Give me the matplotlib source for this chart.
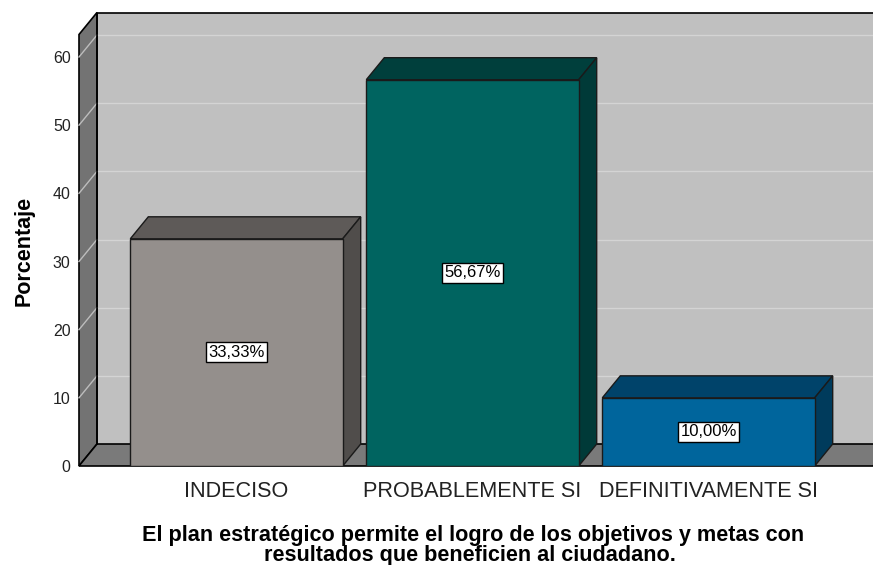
import matplotlib
matplotlib.use("Agg")
import matplotlib.pyplot as plt
from matplotlib.patches import Polygon

# data
categories = ["INDECISO", "PROBABLEMENTE SI", "DEFINITIVAMENTE SI"]
values = [33.33, 56.67, 10.00]
value_labels = ["33,33%", "56,67%", "10,00%"]
yticks = [0, 10, 20, 30, 40, 50, 60]
title_lines = ["El plan estratégico permite el logro de los objetivos y metas con",
               "resultados que beneficien al ciudadano."]
ylabel = "Porcentaje"

# colours: front face, top, side
face_cols = ["#948f8c", "#006460", "#00659c"]
top_cols = ["#5e5a58", "#003f3c", "#00436a"]
side_cols = ["#504d4b", "#003a38", "#003b5c"]

plt.rcParams["font.family"] = ["Liberation Sans", "DejaVu Sans"]

W, H = 873, 565
fig = plt.figure(figsize=(W / 100, H / 100), dpi=100)

# front plane box in pixels
px_left, px_right, px_bottom, px_top = 79, 873, 466, 13
ppu = (466 - 57) / 60.0          # pixels per percent
ymax_axes = (px_bottom - px_top) / ppu
xpx = 236.0                       # pixels per category
x_lo = (px_left - 236.5) / xpx
x_hi = (px_right - 236.5) / xpx
dx = 18 / xpx                     # depth offset
dy = 22 / ppu
wall_top = 63.3
bw = 0.9

ax = fig.add_axes([px_left / W, 1 - px_bottom / H,
                   (px_right - px_left) / W, (px_bottom - px_top) / H])
ax.set_xlim(x_lo, x_hi)
ax.set_ylim(0, ymax_axes)
ax.patch.set_visible(False)
for s in ax.spines.values():
    s.set_visible(False)

# back wall
ax.add_patch(Polygon([(x_lo + dx, dy), (x_hi + 1, dy), (x_hi + 1, wall_top + dy),
                      (x_lo + dx, wall_top + dy)], closed=True,
                     facecolor="#c0c0c0", edgecolor="none", zorder=1))
ax.plot([x_lo + dx, x_lo + dx, x_hi + 1], [dy, wall_top + dy, wall_top + dy],
        color="black", lw=1.2, zorder=3, clip_on=False)
# left wall
ax.add_patch(Polygon([(x_lo, 0), (x_lo, wall_top), (x_lo + dx, wall_top + dy),
                      (x_lo + dx, dy)], closed=True, facecolor="#737373",
                     edgecolor="black", lw=1.2, zorder=2, clip_on=False))
# floor
ax.add_patch(Polygon([(x_lo, 0), (x_hi, 0), (x_hi + dx, dy), (x_lo + dx, dy)],
                     closed=True, facecolor="#7a7a7a", edgecolor="black",
                     lw=1.2, zorder=2, clip_on=False))

# gridlines
for v in yticks[1:]:
    ax.plot([x_lo + dx, x_hi + 1], [v + dy, v + dy], color="#d4d4d4", lw=1, zorder=1.5)
    ax.plot([x_lo, x_lo + dx], [v, v + dy], color="#bdbdbd", lw=1, zorder=2.5, clip_on=False)

# bars
for i, (v, lab) in enumerate(zip(values, value_labels)):
    l, r = i - bw / 2, i + bw / 2
    ax.add_patch(Polygon([(l, 0), (r, 0), (r, v), (l, v)], closed=True,
                         facecolor=face_cols[i], edgecolor="#1a1a1a", lw=1, zorder=5))
    ax.add_patch(Polygon([(l, v), (r, v), (r + dx, v + dy), (l + dx, v + dy)], closed=True,
                         facecolor=top_cols[i], edgecolor="#1a1a1a", lw=1, zorder=4))
    ax.add_patch(Polygon([(r, 0), (r + dx, dy), (r + dx, v + dy), (r, v)], closed=True,
                         facecolor=side_cols[i], edgecolor="#1a1a1a", lw=1, zorder=4))
    ax.text(i, v / 2, lab, ha="center", va="center", fontsize=12, zorder=6,
            bbox=dict(boxstyle="square,pad=0.15", facecolor="white",
                      edgecolor="black", lw=1))

ax.set_yticks(yticks)
ax.set_yticklabels([str(t) for t in yticks], fontsize=11.5, color="#222222")
ax.set_xticks(range(len(categories)))
ax.set_xticklabels(categories, fontsize=15.6, color="#222222")
ax.tick_params(axis="y", length=0, pad=6)
ax.tick_params(axis="x", length=0, pad=11)

fig.text(24 / W, 1 - 251 / H, ylabel, rotation=90, ha="center", va="center",
         fontsize=15.5, fontweight="bold")
fig.text(473 / W, 1 - 541 / H, title_lines[0], ha="center", va="baseline",
         fontsize=15.6, fontweight="bold")
fig.text(470 / W, 1 - 561 / H, title_lines[1], ha="center", va="baseline",
         fontsize=15.6, fontweight="bold")

fig.savefig("out.png", dpi=100)
